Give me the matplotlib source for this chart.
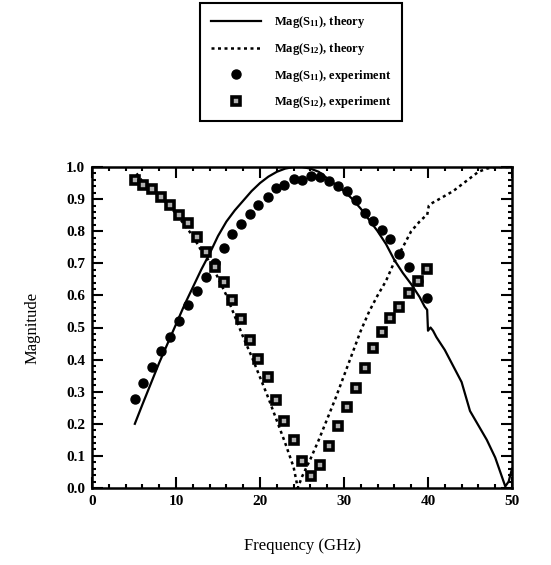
import matplotlib
matplotlib.use("Agg")
import matplotlib.pyplot as plt
from matplotlib.ticker import MultipleLocator, FormatStrFormatter

# measured points (GHz) shared by both experiment series
f_exp = [5.1, 6.1, 7.2, 8.2, 9.3, 10.4, 11.4, 12.5, 13.6, 14.6, 15.7, 16.7,
         17.7, 18.8, 19.8, 20.9, 21.9, 22.9, 24.0, 25.0, 26.1, 27.2, 28.2,
         29.3, 30.3, 31.4, 32.5, 33.5, 34.5, 35.5, 36.6, 37.7, 38.8, 39.9]
s11_exp = [0.276, 0.328, 0.376, 0.427, 0.470, 0.519, 0.571, 0.615, 0.658,
           0.700, 0.749, 0.790, 0.823, 0.854, 0.881, 0.906, 0.934, 0.943,
           0.963, 0.960, 0.972, 0.968, 0.955, 0.941, 0.925, 0.896, 0.858,
           0.833, 0.803, 0.776, 0.730, 0.688, 0.646, 0.593]
s12_exp = [0.958, 0.944, 0.930, 0.907, 0.881, 0.852, 0.825, 0.781, 0.735,
           0.688, 0.641, 0.586, 0.526, 0.462, 0.402, 0.347, 0.275, 0.209,
           0.151, 0.085, 0.036, 0.071, 0.130, 0.194, 0.253, 0.311, 0.374,
           0.437, 0.485, 0.531, 0.564, 0.606, 0.646, 0.683]

# theory curves
f_s11_th = [5.1, 6, 7, 8, 9, 10, 11, 12, 13, 14, 15, 16, 17, 18, 19, 20, 21,
            22, 23, 24, 25, 26, 27, 28, 29, 30, 31, 32, 33, 34, 35, 36, 37,
            38, 39, 39.6, 39.9, 40.0, 40.3, 40.6, 41, 42, 43, 44, 45, 46, 47,
            48, 48.6, 49.2, 49.6, 50]
s11_th = [0.20, 0.26, 0.325, 0.39, 0.45, 0.51, 0.57, 0.625, 0.68, 0.73,
          0.785, 0.83, 0.865, 0.895, 0.925, 0.95, 0.97, 0.985, 0.995, 1.0,
          1.0, 0.995, 0.985, 0.965, 0.945, 0.925, 0.90, 0.87, 0.835, 0.80,
          0.76, 0.71, 0.67, 0.635, 0.595, 0.565, 0.555, 0.49, 0.50, 0.49,
          0.47, 0.43, 0.38, 0.33, 0.24, 0.195, 0.15, 0.095, 0.05, 0.005,
          0.02, 0.06]

f_s12_th = [5.3, 6, 7, 8, 9, 10, 11, 12, 13, 14, 15, 16, 17, 18, 19, 20, 21,
            22, 23, 24, 24.5, 25, 26, 27, 28, 29, 30, 31, 32, 33, 34, 35, 36,
            37, 38, 39, 39.6, 39.9, 40.1, 40.3, 41, 42, 43, 44, 45, 46, 47,
            48, 50]
s12_th = [0.98, 0.955, 0.935, 0.91, 0.885, 0.855, 0.82, 0.785, 0.74, 0.705,
          0.655, 0.60, 0.535, 0.47, 0.41, 0.345, 0.28, 0.21, 0.14, 0.065,
          0.0, 0.035, 0.09, 0.15, 0.215, 0.28, 0.35, 0.42, 0.49, 0.55, 0.60,
          0.645, 0.705, 0.75, 0.80, 0.83, 0.845, 0.85, 0.88, 0.885, 0.895,
          0.91, 0.925, 0.945, 0.965, 0.985, 0.995, 1.0, 1.0]

plt.rcParams['font.family'] = 'Liberation Serif'
plt.rcParams['mathtext.default'] = 'regular'

fig = plt.figure(figsize=(5.51, 5.65), dpi=100)
ax = fig.add_axes([92/551, 1-488/565, (512-92)/551, (488-167)/565])

ax.plot(f_s11_th, s11_th, color='black', lw=1.6,
        label='Mag(S$_{11}$), theory')
ax.plot(f_s12_th, s12_th, color='black', lw=1.8, linestyle=(0, (1.2, 1.4)),
        label='Mag(S$_{12}$), theory')
ax.plot(f_exp, s11_exp, 'o', color='black', ms=6.5,
        label='Mag(S$_{11}$), experiment')
ax.plot(f_exp, s12_exp, 's', mfc='#b0b0b0', mec='black', mew=2.6, ms=6,
        label='Mag(S$_{12}$), experiment')

ax.set_xlim(0, 50)
ax.set_ylim(0, 1.0)
ax.xaxis.set_major_locator(MultipleLocator(10))
ax.xaxis.set_minor_locator(MultipleLocator(2))
ax.yaxis.set_major_locator(MultipleLocator(0.1))
ax.yaxis.set_minor_locator(MultipleLocator(0.02))
ax.yaxis.set_major_formatter(FormatStrFormatter('%.1f'))
ax.tick_params(which='both', direction='in', top=True, right=True,
               width=1.5)
ax.tick_params(which='major', length=8, labelsize=11, pad=5)
ax.tick_params(which='minor', length=3)
for lab in ax.get_xticklabels() + ax.get_yticklabels():
    lab.set_fontweight('bold')
for sp in ax.spines.values():
    sp.set_linewidth(1.8)

ax.set_xlabel('Frequency (GHz)', fontsize=12, labelpad=22)
ax.set_ylabel('Magnitude', fontsize=12, labelpad=18)

leg = fig.legend(loc='upper left', bbox_to_anchor=(200/551, 1-3/565),
                 fancybox=False, framealpha=1, edgecolor='black',
                 prop={'weight': 'bold', 'size': 9}, handlelength=4,
                 labelspacing=0.85, borderpad=0.9, handletextpad=1.0,
                 borderaxespad=0)
leg.get_frame().set_linewidth(1.5)

fig.savefig('out.png', dpi=100)
